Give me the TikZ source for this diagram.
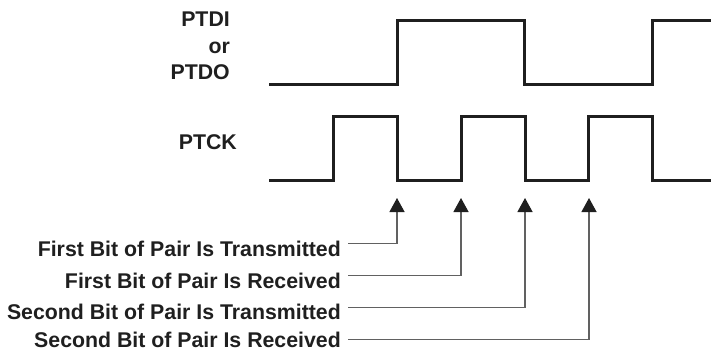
\documentclass[tikz,border=0pt]{standalone}
\usepackage{fontspec}
\setmainfont{Liberation Sans}
\usetikzlibrary{arrows.meta, positioning}

\tikzset{
  wave/.style={line width=3pt, draw=black!88, line join=miter},
  pointer/.style={line width=1.3pt, draw=black!62, -{Triangle[width=15pt,length=14pt,color=black!88]}},
  sig/.style={font=\bfseries\fontsize{21.3}{26.5}\selectfont, text=black!88, inner sep=0pt},
}

\begin{document}
\begin{tikzpicture}[x=1pt,y=-1pt]
\useasboundingbox (0,0) rectangle (711,351);

% signal names
\node[sig, align=right, anchor=north east] (data) at (230,12) {PTDI\\or\\PTDO};
\node[sig, anchor=base east] (clk) at (237,149) {PTCK};

% waveforms
\draw[wave] (269,84) -- (397,84) -- (397,20) -- (524,20) -- (524,84) -- (652,84) -- (652,20) -- (711,20);
\draw[wave] (269,180) \foreach \x in {333,461,588} {-- (\x,180) -- (\x,116) -- ({\x+64},116) -- ({\x+64},180)} -- (711,180);

% clock edges
\foreach \x [count=\i] in {397,461,525,589} \coordinate (tip\i) at (\x,198);

% events (baseline / rise of the line above it)
\foreach \lb/\dy/\txt [count=\i] in {256.7/13.2/First Bit of Pair Is Transmitted,
                                     288/12.5/First Bit of Pair Is Received,
                                     319/11.5/Second Bit of Pair Is Transmitted,
                                     347/7.5/Second Bit of Pair Is Received} {
  \node[sig, anchor=base east] (lab\i) at (341,\lb) {\txt};
  \draw[pointer] ([xshift=7pt,yshift=\dy pt]lab\i.base east) -| (tip\i);
}

\end{tikzpicture}
\end{document}
